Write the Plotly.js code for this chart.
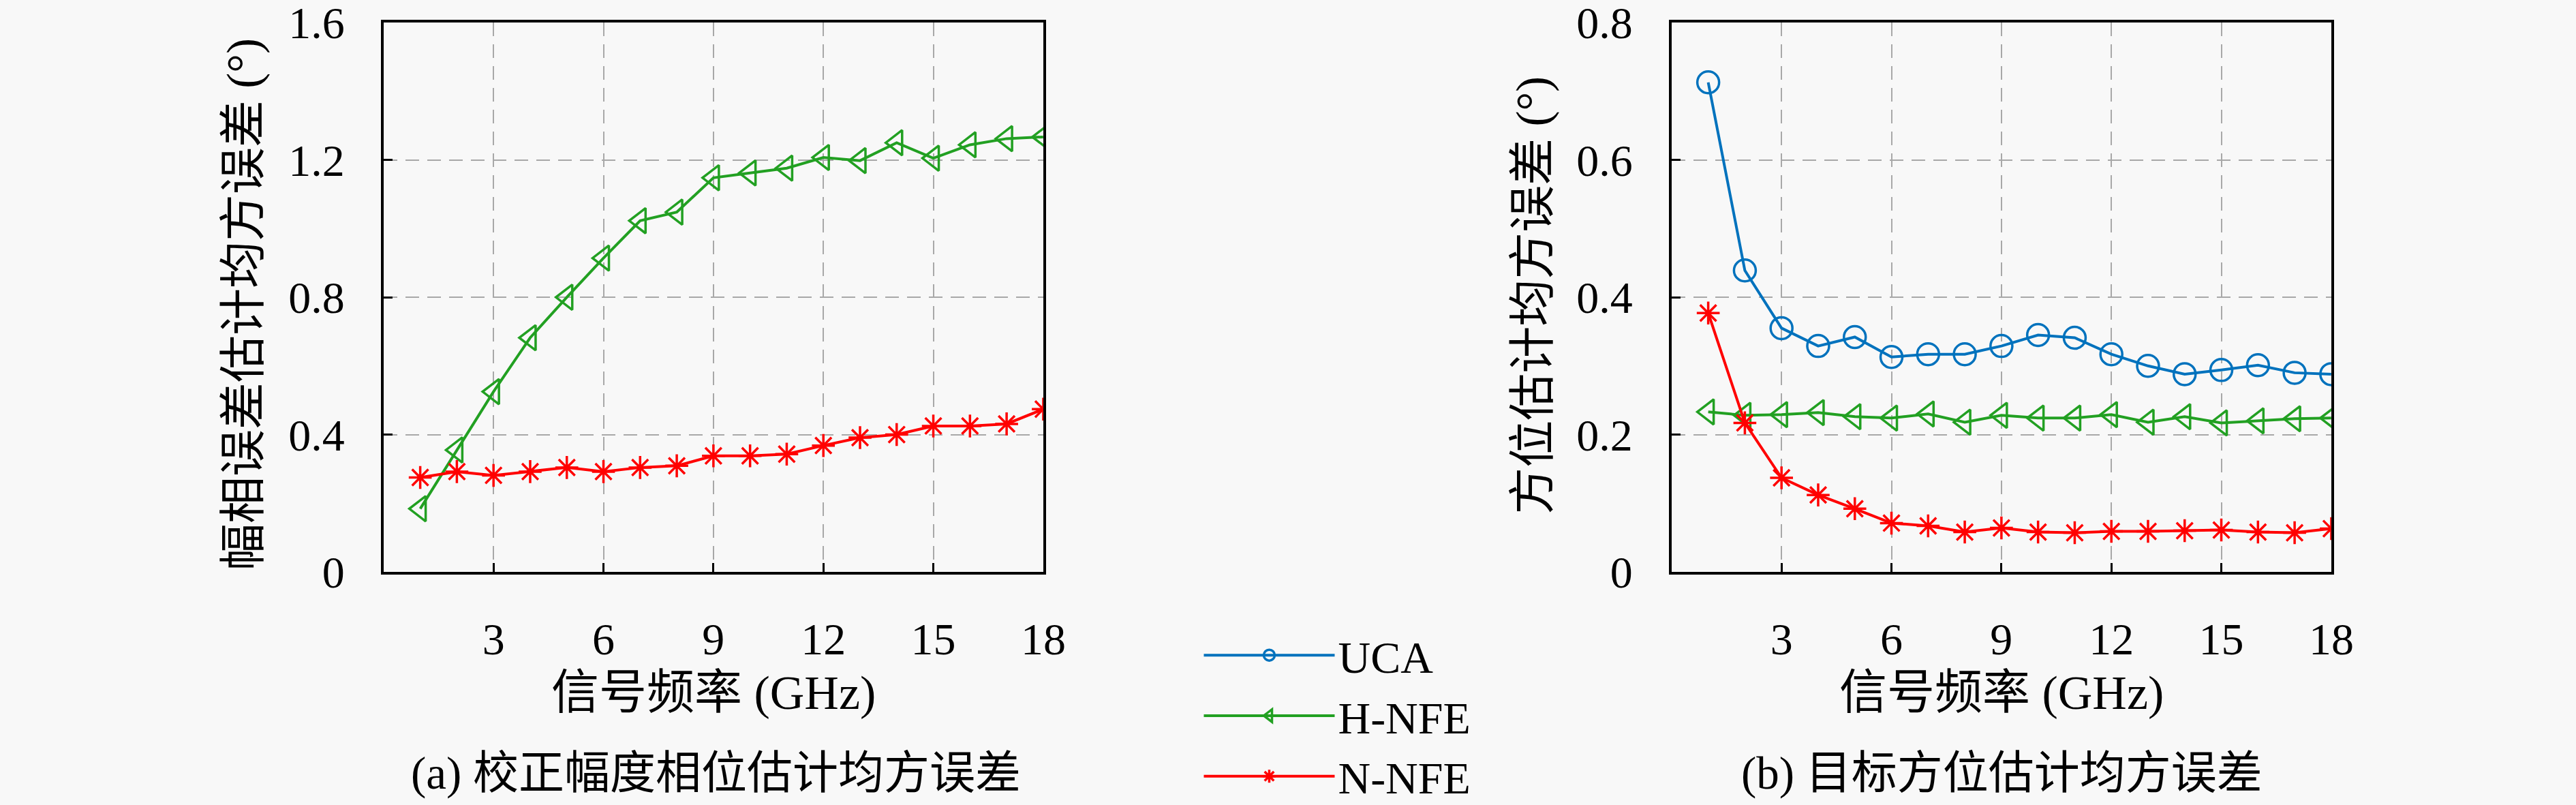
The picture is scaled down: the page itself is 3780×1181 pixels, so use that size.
<!DOCTYPE html>
<html>
<head>
<meta charset="utf-8">
<script src="https://cdn.plot.ly/plotly-3.0.1.min.js"></script>
<style>
  html, body { margin: 0; padding: 0; background: #f8f8f8; }
  #chart { width: 3780px; height: 1181px; }
</style>
</head>
<body>
<div id="chart"></div>
<script>
  // frequency points (GHz)
  const freq = [1, 2, 3, 4, 5, 6, 7, 8, 9, 10, 11, 12, 13, 14, 15, 16, 17, 18];

  // (a) amplitude/phase calibration RMSE
  const hnfeCal = [0.184, 0.355, 0.525, 0.682, 0.80, 0.914, 1.023, 1.048, 1.148, 1.162, 1.176, 1.207, 1.198, 1.25, 1.205, 1.244, 1.262, 1.267];
  const nnfeCal = [0.275, 0.292, 0.281, 0.292, 0.304, 0.292, 0.304, 0.309, 0.338, 0.338, 0.343, 0.368, 0.391, 0.40, 0.425, 0.425, 0.431, 0.474];

  // (b) azimuth RMSE
  const ucaAz  = [0.713, 0.439, 0.355, 0.329, 0.342, 0.313, 0.317, 0.317, 0.329, 0.345, 0.341, 0.317, 0.30, 0.288, 0.294, 0.301, 0.29, 0.288];
  const hnfeAz = [0.233, 0.228, 0.229, 0.232, 0.226, 0.224, 0.230, 0.218, 0.228, 0.224, 0.224, 0.229, 0.218, 0.226, 0.217, 0.220, 0.223, 0.224];
  const nnfeAz = [0.377, 0.217, 0.137, 0.112, 0.092, 0.071, 0.067, 0.058, 0.064, 0.058, 0.057, 0.059, 0.059, 0.060, 0.061, 0.058, 0.057, 0.063];

  const xTicks = [3, 6, 9, 12, 15, 18];
  const yTicksA = [0, 0.4, 0.8, 1.2, 1.6];
  const yTextA = ["0", "0.4", "0.8", "1.2", "1.6"];
  const yTicksB = [0, 0.2, 0.4, 0.6, 0.8];
  const yTextB = ["0", "0.2", "0.4", "0.6", "0.8"];

  const BLUE = "#0072BD", GREEN = "#22a022", RED = "#ff0000";
  const FONT = "Liberation Serif, 'Noto Sans CJK SC', serif";

  function series(x, y, name, color, symbol, xa, ya, show) {
    return {
      x: x, y: y, name: name, xaxis: xa, yaxis: ya,
      type: "scatter", mode: "lines+markers",
      line: { color: color, width: 4 },
      marker: { symbol: symbol, size: symbol == "asterisk-open" ? 28 : 32, color: color,
                line: { color: color, width: 3.5 } },
      legendgroup: name, showlegend: show
    };
  }

  var data = [
    series(freq, hnfeCal, "H-NFE", GREEN, "triangle-left-open", "x", "y", false),
    series(freq, nnfeCal, "N-NFE", RED, "asterisk-open", "x", "y", false),
    series(freq, ucaAz, "UCA", BLUE, "circle-open", "x2", "y2", true),
    series(freq, hnfeAz, "H-NFE", GREEN, "triangle-left-open", "x2", "y2", true),
    series(freq, nnfeAz, "N-NFE", RED, "asterisk-open", "x2", "y2", true)
  ];

  function xaxis(domain, anchor) {
    return {
      domain: domain, anchor: anchor, range: [0, 18.0001],
      tickvals: xTicks, ticks: "inside", ticklen: 13, tickwidth: 3, tickcolor: "#000",
      ticklabelstandoff: 38, ticklabeloverflow: "allow",
      showline: true, linecolor: "#000", linewidth: 4, mirror: true,
      showgrid: true, gridcolor: "#a8a8a8", gridwidth: 2, griddash: "20px,12px",
      zeroline: false, tickfont: { family: FONT, size: 66, color: "#000" }
    };
  }
  function yaxis(range, vals, text, anchor) {
    return {
      domain: [0.2896, 0.972], anchor: anchor, range: range,
      tickvals: vals, ticktext: text, ticks: "inside", ticklen: 13, tickwidth: 3, tickcolor: "#000",
      ticklabelstandoff: 40, ticklabeloverflow: "allow",
      showline: true, linecolor: "#000", linewidth: 4, mirror: true,
      showgrid: true, gridcolor: "#a8a8a8", gridwidth: 2, griddash: "20px,12px",
      zeroline: false, tickfont: { family: FONT, size: 66, color: "#000" }
    };
  }

  function note(text, x, y, size, angle) {
    return { text: text, x: x, y: y, xref: "paper", yref: "paper", showarrow: false,
             textangle: angle || 0, xanchor: "center", yanchor: "middle",
             font: { family: FONT, size: size, color: "#000" } };
  }

  var layout = {
    width: 3780, height: 1181,
    margin: { l: 0, r: 0, t: 0, b: 0, autoexpand: false },
    paper_bgcolor: "#f8f8f8", plot_bgcolor: "#f8f8f8",
    xaxis: xaxis([0.1489, 0.4050], "y"),
    yaxis: yaxis([0, 1.6002], yTicksA, yTextA, "x"),
    xaxis2: xaxis([0.6489, 0.9050], "y2"),
    yaxis2: yaxis([0, 0.8001], yTicksB, yTextB, "x2"),
    showlegend: true,
    legend: {
      x: 0.466, y: 0.228, xanchor: "left", yanchor: "top",
      bgcolor: "rgba(0,0,0,0)", itemwidth: 192, tracegroupgap: 0,
      font: { family: FONT, size: 66, color: "#000" }
    },
    annotations: [
      note("幅相误差估计均方误差 (°)", 0.0947, 0.6224, 69, -90),
      note("方位估计均方误差 (°)", 0.5952, 0.6334, 69, -90),
      note("信号频率 (GHz)", 0.2770, 0.1390, 70),
      note("信号频率 (GHz)", 0.7770, 0.1390, 70),
      note("(a) 校正幅度相位估计均方误差", 0.2778, 0.0390, 67),
      note("(b) 目标方位估计均方误差", 0.7770, 0.0390, 67)
    ]
  };

  Plotly.newPlot("chart", data, layout, { displayModeBar: false });
</script>
</body>
</html>
